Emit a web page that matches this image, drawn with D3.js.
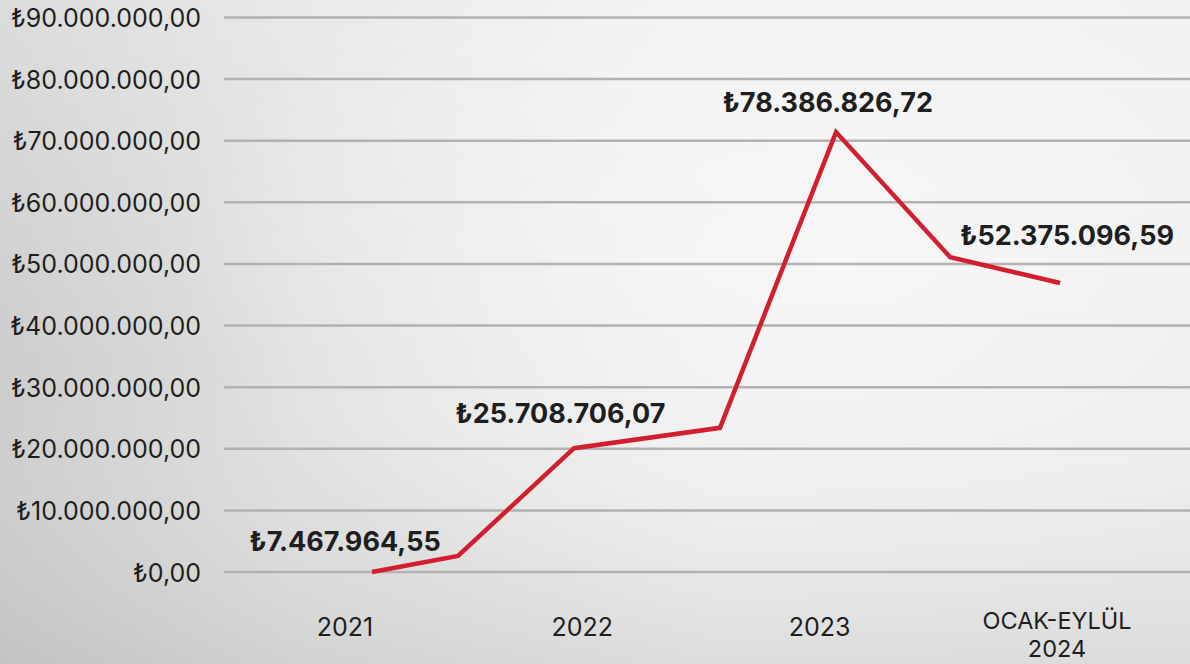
<!DOCTYPE html>
<html>
<head>
<meta charset="utf-8">
<script src="https://cdn.jsdelivr.net/npm/d3@7"></script>
<style>
  html, body { margin: 0; padding: 0; background: #e6e6e6; }
  svg { display: block; }
</style>
</head>
<body>
<div class="wrapper"></div>
<script>
var width = 1190, height = 664;

// categories along the bottom
var categories = ["2021", "2022", "2023", "OCAK-EYLÜL\n2024"];
// labelled totals for each category
var totals = [7467964.55, 25708706.07, 78386826.72, 52375096.59];
// red line, position in category units and value
var linePos = [0.114, 0.476, 0.965, 1.580, 2.069, 2.550, 3.013];
var lineValues = [0, 2600000, 20100000, 23400000, 71400000, 51100000, 46900000];
var yTicks = [0, 10e6, 20e6, 30e6, 40e6, 50e6, 60e6, 70e6, 80e6, 90e6];

// label nudges (layout only)
var labelShift = [[0, 25], [-22, 9], [8, 23], [10, -4]];

var trFormat = d3.formatLocale({
  decimal: ",", thousands: ".", grouping: [3], currency: ["₺", ""]
}).format("$,.2f");

var svg = d3.select(".wrapper").append("svg")
  .attr("width", width)
  .attr("height", height);

/*------------- paper background -------------*/
var defs = svg.append("defs");
var lg = defs.append("linearGradient").attr("id", "paper").attr("x1", 0).attr("x2", 1).attr("y1", 0).attr("y2", 0);
lg.append("stop").attr("offset", "0%").attr("stop-color", "#cdcdcd");
lg.append("stop").attr("offset", "25%").attr("stop-color", "#e0e0e0");
lg.append("stop").attr("offset", "60%").attr("stop-color", "#eeeeee");
lg.append("stop").attr("offset", "100%").attr("stop-color", "#ececec");

var rg = defs.append("radialGradient").attr("id", "glow").attr("cx", 0.7).attr("cy", 0.4).attr("r", 0.55);
rg.append("stop").attr("offset", "0%").attr("stop-color", "#f7f7f7").attr("stop-opacity", 0.9);
rg.append("stop").attr("offset", "100%").attr("stop-color", "#f7f7f7").attr("stop-opacity", 0);

var shade = defs.append("linearGradient").attr("id", "shade").attr("x1", 0).attr("x2", 0).attr("y1", 0).attr("y2", 1);
shade.append("stop").attr("offset", "0%").attr("stop-color", "#ffffff").attr("stop-opacity", 0.3);
shade.append("stop").attr("offset", "55%").attr("stop-color", "#ffffff").attr("stop-opacity", 0);
shade.append("stop").attr("offset", "100%").attr("stop-color", "#999999").attr("stop-opacity", 0.2);

svg.append("rect").attr("width", width).attr("height", height).attr("fill", "url(#paper)");
svg.append("rect").attr("width", width).attr("height", height).attr("fill", "url(#glow)");
svg.append("rect").attr("width", width).attr("height", height).attr("fill", "url(#shade)");

/*------------- scales -------------*/
var x = d3.scaleLinear().domain([0, 3]).range([345, 1057]);
var y = d3.scaleLinear().domain([0, 90e6]).range([572, 17.5]);

// grid lines
svg.append("g")
  .selectAll("line")
  .data(yTicks)
  .join("line")
  .attr("x1", 224)
  .attr("x2", width)
  .attr("y1", d => y(d))
  .attr("y2", d => y(d))
  .style("stroke", "#b2b2b2")
  .style("stroke-width", 2.5);

// y labels
svg.append("g")
  .selectAll("text")
  .data(yTicks)
  .join("text")
  .attr("x", 201)
  .attr("y", d => y(d))
  .attr("dy", "0.38em")
  .attr("text-anchor", "end")
  .style("font-family", "Inter, 'Noto Sans', sans-serif")
  .style("font-size", "25px")
  .style("fill", "#1e1e1e")
  .text(d => trFormat(d));

// x labels, one text per line
var xLines = [];
categories.forEach((c, i) => {
  var parts = c.split("\n");
  parts.forEach((s, k) => xLines.push({ i: i, s: s, k: k, n: parts.length }));
});

svg.append("g")
  .selectAll("text")
  .data(xLines)
  .join("text")
  .attr("x", d => x(d.i))
  .attr("y", d => (d.n > 1 ? 629 : 636) + d.k * 28)
  .attr("text-anchor", "middle")
  .style("font-family", "Inter, 'Noto Sans', sans-serif")
  .style("font-size", d => d.n > 1 ? "23.5px" : "25px")
  .style("fill", "#1e1e1e")
  .text(d => d.s);

// red line
var line = d3.line()
  .x((d, i) => x(linePos[i]))
  .y(d => y(d));

svg.append("path")
  .datum(lineValues)
  .attr("d", line)
  .style("fill", "none")
  .style("stroke", "#d21f30")
  .style("stroke-width", 4.5)
  .style("stroke-linejoin", "miter");

// value labels
svg.append("g")
  .selectAll("text")
  .data(totals)
  .join("text")
  .attr("x", (d, i) => x(i) + labelShift[i][0])
  .attr("y", (d, i) => y(d) + labelShift[i][1])
  .attr("text-anchor", "middle")
  .style("font-family", "Inter, 'Noto Sans', sans-serif")
  .style("font-weight", "bold")
  .style("font-size", "27px")
  .style("fill", "#1e1e1e")
  .text(d => trFormat(d));
</script>
</body>
</html>
